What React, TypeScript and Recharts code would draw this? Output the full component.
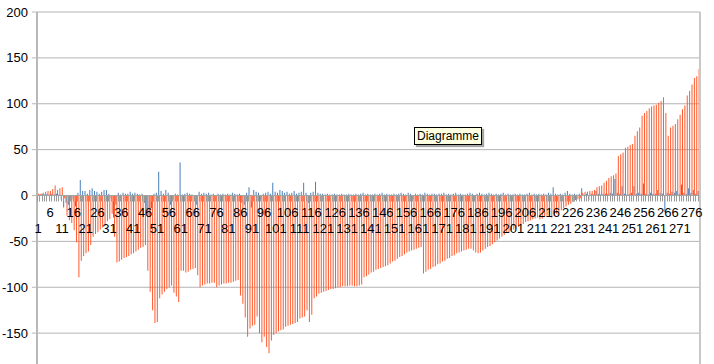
import React from 'react';
import { BarChart, Bar, XAxis, YAxis, CartesianGrid, ReferenceLine } from 'recharts';

// Kategorien 1..279 (Excel-Zeilennummern)
const categories = Array.from({ length: 279 }, (_, i) => String(i + 1));

// Reihe 1 (blau) – kleine Abweichungen
const blueValues = [
    1, 1, 2, 1, 2, 1, 2, 1, 2, 1,
    -5, -13, -8, -10, -6, -4, -12, 3, 17, 5,
    5, 2, 6, 8, 5, 4, 2, 4, 6, 6,
    2, -3, -24, -10, 3, 1, 3, 2, 2, 4,
    2, 3, 2, 1, 2, -8, -15, -22, -14, 2,
    3, 26, 5, 2, 6, 3, -10, -4, 2, 1,
    36, 1, 2, 3, 2, 1, -6, -10, 4, 2,
    3, 2, 3, 1, 2, -6, 2, 1, 2, 1,
    2, 1, 3, 2, 1, 2, -8, -10, 3, 9,
    -13, 6, 4, 3, -4, 2, 3, 4, 2, 14,
    4, 3, 6, 5, 3, 4, 2, 3, 5, 2,
    3, 4, 14, 3, -8, 3, 4, 15, 3, 2,
    2, 1, 2, 1, 1, 2, 1, 1, 2, 1,
    1, 2, 1, 1, 2, 1, 2, 3, 1, 2,
    1, 1, 2, 1, 2, 3, 1, 2, 1, 1,
    2, 1, 2, 3, 2, 1, 3, 2, -4, 2,
    1, 2, 1, 3, 2, 1, 2, 2, 1, 2,
    2, 3, 1, 2, 1, 2, 3, 1, 2, 1,
    1, 2, 3, 2, -4, 2, 3, 2, 1, 2,
    3, 2, 1, 2, 1, 2, 3, 1, 2, 1,
    1, 2, 1, 2, 1, 1, 2, 3, 1, 2,
    1, 2, 1, 2, 1, 3, 2, 9, 2, 1,
    2, 1, 3, 5, 2, 1, 2, 1, 2, 8,
    1, 2, -5, 2, 1, 5, 2, 1, 2, 2,
    2, 3, 2, 18, 3, 2, 10, 2, 1, 2,
    3, 10, 2, 3, 2, 13, 2, 1, 3, 2,
    2, 6, 3, 2, -18, 3, 2, 4, 3, 5,
    2, 12, 3, 2, 8, 3, 6, 2, 5,
];

// Reihe 2 (orange) – kumulierte Werte
const orangeValues = [
    2, 2, 3, 4, 5, 5, 7, 11, 6, 8,
    9, -3, -22, -27, -30, -38, -51, -89, -71, -66,
    -63, -61, -54, -45, -42, -40, -37, -35, -33, -28,
    -26, -20, -45, -73, -72, -70, -68, -67, -66, -64,
    -63, -61, -59, -57, -56, -54, -82, -105, -125, -139,
    -138, -112, -108, -105, -102, -100, -98, -106, -110, -116,
    -82, -82, -84, -83, -81, -80, -79, -87, -100, -98,
    -97, -96, -96, -95, -95, -100, -98, -97, -96, -96,
    -95, -95, -94, -93, -92, -109, -118, -133, -154, -145,
    -142, -141, -132, -150, -160, -154, -165, -172, -158, -152,
    -150, -148, -147, -146, -143, -142, -141, -140, -139, -138,
    -134, -133, -132, -125, -138, -130, -112, -110, -107, -106,
    -105, -104, -103, -102, -102, -101, -100, -100, -99, -99,
    -99, -98, -98, -99, -99, -98, -97, -89, -88, -86,
    -84, -83, -81, -80, -79, -78, -77, -76, -74, -72,
    -71, -69, -67, -66, -64, -62, -61, -60, -59, -58,
    -57, -56, -85, -83, -81, -80, -78, -77, -75, -74,
    -72, -71, -69, -68, -66, -65, -63, -62, -61, -60,
    -59, -58, -58, -60, -62, -63, -62, -60, -58, -56,
    -55, -53, -51, -49, -47, -45, -43, -41, -40, -38,
    -37, -35, -34, -32, -31, -29, -28, -27, -26, -25,
    -24, -26, -25, -23, -22, -20, -24, -22, -20, -18,
    -16, -14, -12, -10, -9, -7, -5, -4, -3, 3,
    4, 4, 5, 5, 6, 9, 10, 11, 14, 16,
    19, 21, 22, 24, 43, 45, 47, 52, 53, 55,
    56, 65, 70, 74, 87, 90, 92, 95, 97, 98,
    99, 101, 103, 107, 90, 65, 74, 76, 78, 83,
    88, 94, 98, 109, 114, 121, 128, 130, 138,
];

// -200 liegt unterhalb des sichtbaren Bereichs
const yTicks = [-150, -100, -50, 0, 50, 100, 150, 200];
const Y_MIN = -200;
const Y_MAX = 200;

// Layout
const CHART_W = 714;
const CHART_H = 400;
const TOP = 12;
const BOTTOM = 20;
const X_AXIS_H = 1;
const PLOT_H = CHART_H - TOP - BOTTOM - X_AXIS_H;
const ZERO_Y = TOP + (PLOT_H * Y_MAX) / (Y_MAX - Y_MIN);
const BAND = (CHART_W - 37 - 7) / categories.length;

const data = categories.map((c, i) => ({
    cat: c,
    reihe1: blueValues[i],
    reihe2: orangeValues[i],
}));

// Kategorie-Beschriftung auf der Nulllinie, versetzt in zwei Zeilen
const renderCategoryTick = (props: any) => {
    const { x, payload } = props;
    const idx = props.index ?? payload?.index ?? 0;
    const left = Math.round(x - BAND / 2) + 0.5;
    return (
        <g key={`t-${idx}`}>
            <line x1={left} x2={left} y1={ZERO_Y} y2={ZERO_Y + 6} stroke="#9a9a9a" strokeWidth={1} />
            {idx % 5 === 0 && (
                <text
                    x={x}
                    y={idx % 10 === 0 ? ZERO_Y + 37 : ZERO_Y + 21}
                    textAnchor="middle"
                    fontSize={13}
                    fontFamily="'Liberation Sans', Arial, sans-serif"
                    fill="#000"
                >
                    {payload.value}
                </text>
            )}
        </g>
    );
};

export default function App() {
    return (
        <div
            style={{
                position: 'fixed',
                left: 0,
                top: 0,
                width: 714,
                height: 364,
                overflow: 'hidden',
                background: '#fff',
            }}
        >
            <BarChart
                width={CHART_W}
                height={CHART_H}
                data={data}
                margin={{ top: TOP, right: 7, left: 0, bottom: BOTTOM }}
                barCategoryGap={0}
                barGap={0}
            >
                <CartesianGrid vertical={false} stroke="#b4b4b4" strokeWidth={1} />
                <XAxis
                    dataKey="cat"
                    interval={0}
                    height={X_AXIS_H}
                    axisLine={false}
                    tickLine={false}
                    tick={renderCategoryTick}
                />
                <YAxis
                    domain={[Y_MIN, Y_MAX]}
                    ticks={yTicks}
                    width={37}
                    tickSize={5}
                    tickMargin={4}
                    axisLine={{ stroke: '#b8b8b8', strokeWidth: 2 }}
                    tickLine={{ stroke: '#b8b8b8' }}
                    tick={{ fill: '#000', fontSize: 13, fontFamily: "'Liberation Sans', Arial, sans-serif" }}
                />
                <YAxis
                    yAxisId="rand"
                    orientation="right"
                    domain={[Y_MIN, Y_MAX]}
                    width={7}
                    tick={false}
                    tickLine={false}
                    axisLine={{ stroke: '#c8c8c8', strokeWidth: 2 }}
                />
                <ReferenceLine y={0} stroke="#a6a6a6" strokeWidth={1} />
                <Bar dataKey="reihe1" fill="#4a7ebb" isAnimationActive={false} />
                <Bar dataKey="reihe2" fill="#ff5a2e" isAnimationActive={false} />
            </BarChart>
            <div
                style={{
                    position: 'absolute',
                    left: 414,
                    top: 127,
                    width: 66,
                    height: 16,
                    background: '#ffffe1',
                    border: '1px solid #000',
                    boxShadow: '2px 2px 1px rgba(0,0,0,0.35)',
                    fontFamily: "'Liberation Sans', Arial, sans-serif",
                    fontSize: 12,
                    lineHeight: '16px',
                    textAlign: 'center',
                    color: '#000',
                }}
            >
                Diagramme
            </div>
        </div>
    );
}
